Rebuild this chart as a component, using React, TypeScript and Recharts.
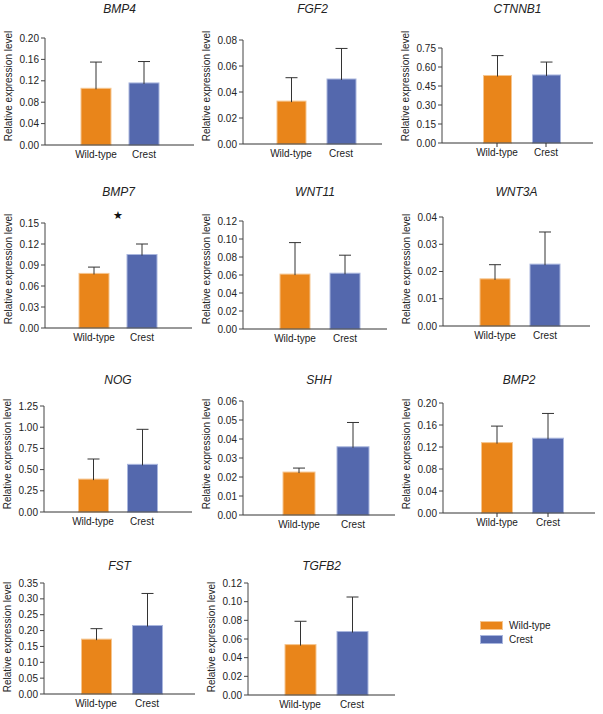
import { BarChart, Bar, XAxis, YAxis, Cell } from 'recharts';

const genes = ['BMP4', 'FGF2', 'CTNNB1', 'BMP7', 'WNT11', 'WNT3A', 'NOG', 'SHH', 'BMP2', 'FST', 'TGFB2'];
const groups = ['Wild-type', 'Crest'];
const wildTypeMean = [0.106, 0.033, 0.533, 0.078, 0.061, 0.0173, 0.388, 0.0226, 0.128, 0.173, 0.054];
const wildTypeSd = [0.049, 0.018, 0.157, 0.009, 0.035, 0.0052, 0.237, 0.0021, 0.030, 0.033, 0.025];
const crestMean = [0.116, 0.050, 0.537, 0.105, 0.062, 0.0227, 0.562, 0.0359, 0.136, 0.216, 0.068];
const crestSd = [0.040, 0.0235, 0.102, 0.015, 0.020, 0.0118, 0.413, 0.0128, 0.045, 0.101, 0.037];
const yMax = [0.2, 0.08, 0.75, 0.15, 0.12, 0.04, 1.25, 0.06, 0.2, 0.35, 0.12];
const yStep = [0.04, 0.02, 0.15, 0.03, 0.02, 0.01, 0.25, 0.01, 0.04, 0.05, 0.02];
const significant = ['BMP7'];

const FONT = '"Liberation Sans", Arial, sans-serif';
const COLORS = ['#E9851A', '#5468AD'];
const EDGES = ['#F5C58F', '#A9B6DE'];

// plot boxes in page pixels: y-axis x, axis end, top tick y, zero y, bar centres, bar width
const layout = [
  { x0: 45, x1: 194, y0: 38, y1: 145, wt: 96, cr: 144, bw: 30, xt: false },
  { x0: 243, x1: 382, y0: 40, y1: 144, wt: 291, cr: 341, bw: 29, xt: false },
  { x0: 442, x1: 593, y0: 48, y1: 143, wt: 497, cr: 546, bw: 28, xt: true },
  { x0: 45, x1: 192, y0: 223, y1: 328, wt: 94, cr: 142, bw: 30, xt: false },
  { x0: 243, x1: 387, y0: 221, y1: 329, wt: 295, cr: 345, bw: 30, xt: false },
  { x0: 443, x1: 590, y0: 217, y1: 326, wt: 495, cr: 545, bw: 30, xt: false },
  { x0: 44, x1: 192, y0: 406, y1: 512, wt: 93, cr: 142, bw: 30, xt: false },
  { x0: 243, x1: 395, y0: 401, y1: 515, wt: 299, cr: 353, bw: 32, xt: false },
  { x0: 443, x1: 595, y0: 403, y1: 513, wt: 497, cr: 548, bw: 31, xt: true },
  { x0: 44, x1: 195, y0: 583, y1: 694, wt: 96, cr: 147, bw: 30, xt: false },
  { x0: 248, x1: 395, y0: 583, y1: 695, wt: 300, cr: 352, bw: 31, xt: false },
];
const titleY = [9, 192, 380, 566];
const labelY = [86, 269, 454, 637];

const YW = 42;
const TM = 8;
const RM = 4;
const XH = 22;

function BarWithError(props: any) {
  const { x, y, width, height, index, payload } = props;
  const k = payload.mean > 0 ? height / payload.mean : 0;
  const top = y - payload.sd * k;
  const cx = x + width / 2;
  return (
    <g>
      <rect x={x} y={y} width={width} height={height} fill={COLORS[index]} stroke={EDGES[index]} strokeWidth={1} />
      <line x1={cx} x2={cx} y1={y + 1} y2={top} stroke="#333" strokeWidth={1} />
      <line x1={cx - 6} x2={cx + 6} y1={top} y2={top} stroke="#333" strokeWidth={1} />
    </g>
  );
}

function Panel({ i }: { i: number }) {
  const L = layout[i];
  const row = Math.floor(i / 3);
  const data = groups.map((g, j) => ({
    group: g,
    mean: j === 0 ? wildTypeMean[i] : crestMean[i],
    sd: j === 0 ? wildTypeSd[i] : crestSd[i],
  }));
  const n = Math.round(yMax[i] / yStep[i]);
  const ticks = Array.from({ length: n + 1 }, (_, j) => +(j * yStep[i]).toFixed(4));
  const band = L.cr - L.wt;
  const padL = L.wt - L.x0 - band / 2;
  const padR = L.x1 - L.cr - band / 2;
  const w = YW + (L.x1 - L.x0) + RM;
  const h = TM + (L.y1 - L.y0) + XH;
  return (
    <>
      <div style={{ position: 'absolute', left: L.x0 - YW, top: L.y0 - TM }}>
        <BarChart width={w} height={h} data={data} margin={{ top: TM, right: RM, bottom: 0, left: 0 }}>
          <XAxis
            dataKey="group"
            height={XH}
            padding={{ left: padL, right: padR }}
            axisLine={{ stroke: '#333' }}
            tickLine={L.xt ? { stroke: '#333' } : false}
            tickSize={4}
            tickMargin={2}
            tick={{ fill: '#222', fontSize: 10, fontFamily: FONT }}
          />
          <YAxis
            width={YW}
            domain={[0, yMax[i]]}
            ticks={ticks}
            interval={0}
            tickFormatter={(v: number) => v.toFixed(2)}
            axisLine={{ stroke: '#444' }}
            tickLine={{ stroke: '#444' }}
            tickSize={4}
            tickMargin={2}
            tick={{ fill: '#222', fontSize: 10, fontFamily: FONT }}
          />
          <Bar dataKey="mean" barSize={L.bw} isAnimationActive={false} shape={BarWithError}>
            {data.map((d, j) => (
              <Cell key={d.group} fill={COLORS[j]} />
            ))}
          </Bar>
        </BarChart>
      </div>
      <div
        style={{
          position: 'absolute', left: L.x0, width: L.x1 - L.x0, top: titleY[row] - 7, height: 14,
          lineHeight: '14px', textAlign: 'center', fontSize: 12, fontStyle: 'italic', color: '#222',
        }}
      >
        {genes[i]}
      </div>
      <div
        style={{
          position: 'absolute', left: L.x0 - 36 - 70, width: 140, top: labelY[row] - 7, height: 14,
          lineHeight: '14px', textAlign: 'center', fontSize: 10, color: '#222', transform: 'rotate(-90deg)',
        }}
      >
        Relative expression level
      </div>
      {significant.includes(genes[i]) && (
        <div
          style={{
            position: 'absolute', left: (L.wt + L.cr) / 2 - 10, width: 20, top: L.y0 - 14, height: 14,
            lineHeight: '14px', textAlign: 'center', fontSize: 11, color: '#111', fontFamily: '"DejaVu Sans"',
          }}
        >
          ★
        </div>
      )}
    </>
  );
}

export default function App() {
  return (
    <div style={{ position: 'absolute', left: 0, top: 0, width: 603, height: 714, background: '#fff', fontFamily: FONT }}>
      {genes.map((g, i) => (
        <Panel key={g} i={i} />
      ))}
      {groups.map((g, j) => (
        <div key={g}>
          <div
            style={{
              position: 'absolute', left: 480, top: 621 + j * 13.5, width: 23, height: 9,
              background: COLORS[j], border: `1px solid ${EDGES[j]}`, boxSizing: 'border-box',
            }}
          />
          <div
            style={{
              position: 'absolute', left: 509, top: 626 + j * 13.5 - 7, height: 14, lineHeight: '14px',
              fontSize: 10, color: '#222',
            }}
          >
            {g}
          </div>
        </div>
      ))}
    </div>
  );
}
